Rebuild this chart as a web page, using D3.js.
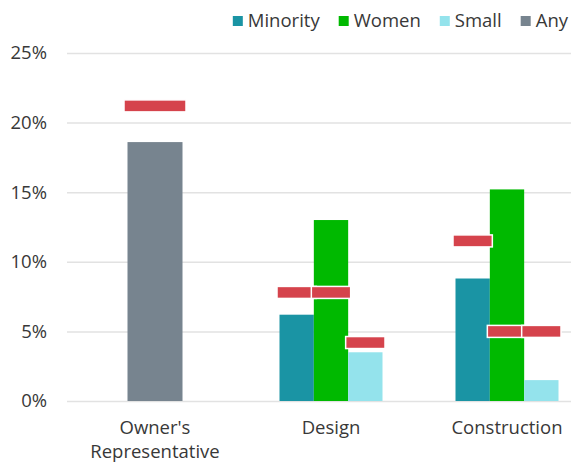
<!DOCTYPE html>
<html>
<head>
<meta charset="utf-8">
<script src="https://cdn.jsdelivr.net/npm/d3@7"></script>
<style>
  html, body { margin: 0; padding: 0; background: #fff; }
  svg { display: block; font-family: "Open Sans", "Noto Sans", sans-serif; }
</style>
</head>
<body>
<svg id="chart" width="571" height="464"></svg>
<script>
// Share of contract awards by firm type, with goal markers
const categories = ["Owner's Representative", "Design", "Construction"];
const categoryLines = [["Owner's", "Representative"], ["Design"], ["Construction"]];
const seriesNames = ["Minority", "Women", "Small", "Any"];
const seriesColors = ["#1a94a4", "#00b900", "#94e3ec", "#77848f"];

// Actual shares (%), null where a category has no such bar
const minorityValues = [null, 6.2, 8.8];
const womenValues = [null, 13.0, 15.2];
const smallValues = [null, 3.5, 1.5];
const anyValues = [18.6, null, null];

// Goal levels (%) drawn as red markers over the bars
const minorityGoals = [null, 7.8, 11.5];
const womenGoals = [null, 7.8, 5.0];
const smallGoals = [null, 4.2, 5.0];
const anyGoals = [21.2, null, null];

const yTicks = [0, 5, 10, 15, 20, 25];

const values = [minorityValues, womenValues, smallValues, anyValues];
const goals = [minorityGoals, womenGoals, smallGoals, anyGoals];

const svg = d3.select("#chart");
const textColor = "#383838";
const goalColor = "#d5434c";
const fontSize = 18.5;

const x = d3.scaleBand().domain(categories).range([67, 595]).padding(0);
const y = d3.scaleLinear().domain([0, 25]).range([401, 53]);

// Gridlines and percentage labels
const yAxis = d3.axisLeft(y).tickValues(yTicks).tickSize(-(571 - 67)).tickPadding(20)
  .tickFormat(d => d + "%");
const gy = svg.append("g").attr("transform", "translate(67,0)").call(yAxis);
gy.select(".domain").remove();
gy.selectAll(".tick line").attr("stroke", "#e2e2e2").attr("stroke-width", 1.5);
gy.selectAll(".tick text").attr("fill", textColor).attr("font-size", fontSize)
  .attr("font-family", "Open Sans, sans-serif");

// Build the bar list: each category lays out only the series it has
const bars = [];
categories.forEach((cat, ci) => {
  const present = seriesNames.map((s, si) => si).filter(si => values[si][ci] != null);
  const groupWidth = present.length === 1 ? 55 : 103;
  const inner = d3.scaleBand().domain(present).range([-groupWidth / 2, groupWidth / 2]).padding(0);
  present.forEach(si => {
    bars.push({
      cat, si,
      value: values[si][ci],
      goal: goals[si][ci],
      x0: x(cat) + x.bandwidth() / 2 + inner(si),
      w: inner.bandwidth()
    });
  });
});

svg.append("g").selectAll("rect").data(bars).join("rect")
  .attr("x", d => d.x0)
  .attr("width", d => d.w)
  .attr("y", d => y(d.value))
  .attr("height", d => y(0) - y(d.value))
  .attr("fill", d => seriesColors[d.si]);

// Goal markers, slightly wider than their bars, with a thin white edge
const markerH = 12;
svg.append("g").selectAll("rect").data(bars.filter(d => d.goal != null)).join("rect")
  .attr("x", d => d.x0 - (d.w > 40 ? 3.5 : 2.5))
  .attr("width", d => d.w + (d.w > 40 ? 7 : 5))
  .attr("y", d => y(d.goal) - markerH / 2)
  .attr("height", markerH)
  .attr("fill", goalColor)
  .attr("stroke", "#fff")
  .attr("stroke-width", 1.5);

// Category labels, one text element per line
const gx = svg.append("g");
categories.forEach((cat, ci) => {
  const cx = x(cat) + x.bandwidth() / 2;
  categoryLines[ci].forEach((line, li) => {
    gx.append("text")
      .attr("x", cx)
      .attr("y", 433.5 + li * 24.5)
      .attr("text-anchor", "middle")
      .attr("fill", textColor)
      .attr("font-size", 18.5)
      .text(line);
  });
});

// Legend, right-aligned along the top
const legend = svg.append("g");
const items = seriesNames.map((name, i) => {
  const g = legend.append("g");
  g.append("rect").attr("width", 10).attr("height", 10).attr("y", -11).attr("fill", seriesColors[i]);
  const t = g.append("text").attr("x", 15).attr("fill", textColor).attr("font-size", fontSize).text(name);
  return { g, w: 15 + t.node().getComputedTextLength() };
});
const legendGap = 19;
let lx = 568 - d3.sum(items, d => d.w) - legendGap * (items.length - 1);
items.forEach(it => {
  it.g.attr("transform", `translate(${lx},27)`);
  lx += it.w + legendGap;
});
</script>
</body>
</html>
